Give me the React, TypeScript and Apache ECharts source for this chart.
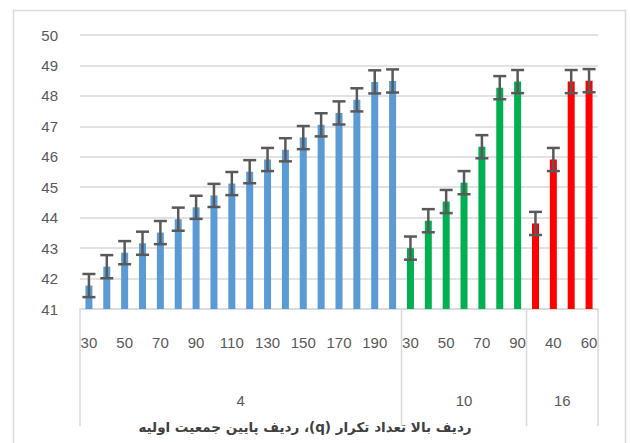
import React, { useEffect, useRef } from "react";
import * as echarts from "echarts";

// Population (lower row) per group of repetition count q (upper row)
const categories = [
  "30", "40", "50", "60", "70", "80", "90", "100", "110", "120", "130", "140", "150", "160", "170", "180", "190", "200",
  "30", "40", "50", "60", "70", "80", "90",
  "30", "40", "50", "60",
];
const groupLabels = ["4", "10", "16"];
const groupSizes = [18, 7, 4];
const groupColors = ["#5b9bd5", "#00b050", "#ff0000"];

const blueValues = [41.77, 42.39, 42.85, 43.16, 43.51, 43.95, 44.34, 44.73, 45.12, 45.51, 45.91, 46.23, 46.63, 47.05, 47.44, 47.87, 48.46, 48.49];
const greenValues = [43.0, 43.9, 44.53, 45.15, 46.33, 48.27, 48.47];
const redValues = [43.81, 45.91, 48.47, 48.5];
const errorValues = [
  0.38, 0.38, 0.38, 0.38, 0.38, 0.38, 0.38, 0.38, 0.38, 0.38, 0.38, 0.38, 0.38, 0.38, 0.38, 0.38, 0.38, 0.38,
  0.38, 0.38, 0.38, 0.38, 0.38, 0.38, 0.38,
  0.38, 0.38, 0.38, 0.38,
];
const yMin = 41;
const yMax = 50;
const yInterval = 1;
const axisTitle = "ردیف بالا تعداد تکرار (q)، ردیف پایین جمعیت اولیه";

export default function App() {
  const ref = useRef<HTMLDivElement>(null);

  useEffect(() => {
    if (!ref.current) return;
    const chart = echarts.init(ref.current, null, { renderer: "svg" });

    const groupValues = [blueValues, greenValues, redValues];
    const barData: any[] = [];
    groupValues.forEach((vals, g) => {
      vals.forEach((v) => barData.push({ value: v, itemStyle: { color: groupColors[g] } }));
    });
    const errData = barData.map((d, i) => [i, d.value - errorValues[i], d.value + errorValues[i]]);

    const labelFont = "Liberation Sans";
    const option: any = {
      animation: false,
      backgroundColor: "#ffffff",
      grid: { left: 80, right: 32, top: 35, bottom: 134, containLabel: false },
      xAxis: {
        type: "category",
        data: categories,
        boundaryGap: true,
        axisLine: { show: true, lineStyle: { color: "#d9d9d9", width: 1.5 } },
        axisTick: { show: false },
        axisLabel: {
          interval: 1,
          margin: 26,
          color: "#595959",
          fontFamily: labelFont,
          fontSize: 15,
          hideOverlap: false,
        },
      },
      yAxis: {
        type: "value",
        min: yMin,
        max: yMax,
        interval: yInterval,
        axisLine: { show: false },
        axisTick: { show: false },
        splitLine: { show: true, lineStyle: { color: "#d9d9d9", width: 1.5 } },
        axisLabel: {
          margin: 22,
          color: "#595959",
          fontFamily: labelFont,
          fontSize: 15,
        },
      },
      series: [
        {
          type: "bar",
          data: barData,
          barWidth: 7,
          z: 2,
        },
        {
          type: "custom",
          data: errData,
          z: 5,
          renderItem: (params: any, api: any) => {
            const idx = api.value(0);
            const lo = api.coord([idx, api.value(1)]);
            const hi = api.coord([idx, api.value(2)]);
            const hw = 6.5;
            const style = { stroke: "#595959", lineWidth: 2.5 };
            return {
              type: "group",
              children: [
                { type: "line", shape: { x1: lo[0], y1: lo[1], x2: hi[0], y2: hi[1] }, style },
                { type: "line", shape: { x1: lo[0] - hw, y1: lo[1], x2: lo[0] + hw, y2: lo[1] }, style },
                { type: "line", shape: { x1: hi[0] - hw, y1: hi[1], x2: hi[0] + hw, y2: hi[1] }, style },
              ],
            };
          },
        },
      ],
    };
    chart.setOption(option);

    // multi-level axis decorations computed from axis scale
    const c0 = chart.convertToPixel({ xAxisIndex: 0 }, 0) as number;
    const c1 = chart.convertToPixel({ xAxisIndex: 0 }, 1) as number;
    const band = c1 - c0;
    const axisY = chart.convertToPixel({ yAxisIndex: 0 }, yMin) as number;
    const boundaries: number[] = [c0 - band / 2];
    let acc = 0;
    groupSizes.forEach((n) => {
      acc += n;
      boundaries.push(c0 - band / 2 + acc * band);
    });
    const graphics: any[] = [
      {
        type: "rect",
        shape: { x: 13.5, y: 10.5, width: 612, height: 460 },
        style: { fill: "none", stroke: "#d9d9d9", lineWidth: 1.5 },
        silent: true,
      },
    ];
    boundaries.forEach((bx) => {
      graphics.push({
        type: "line",
        shape: { x1: bx, y1: axisY, x2: bx, y2: axisY + 117 },
        style: { stroke: "#d9d9d9", lineWidth: 1.5 },
      });
    });
    groupLabels.forEach((lab, g) => {
      graphics.push({
        type: "text",
        x: (boundaries[g] + boundaries[g + 1]) / 2,
        y: axisY + 91,
        style: {
          text: lab,
          fill: "#595959",
          font: `15px ${labelFont}`,
          textAlign: "center",
          textVerticalAlign: "middle",
        },
      });
    });
    graphics.push({
      type: "text",
      x: 305,
      y: axisY + 118,
      style: {
        text: "\u202B" + axisTitle + "\u202C",
        fill: "#404040",
        font: 'bold 13.5px "DejaVu Sans"',
        textAlign: "center",
        textVerticalAlign: "middle",
      },
    });
    chart.setOption({ graphic: graphics });

    return () => chart.dispose();
  }, []);

  return (
    <div
      ref={ref}
      style={{ position: "fixed", left: 0, top: 0, width: 630, height: 443, background: "#fff" }}
    />
  );
}
